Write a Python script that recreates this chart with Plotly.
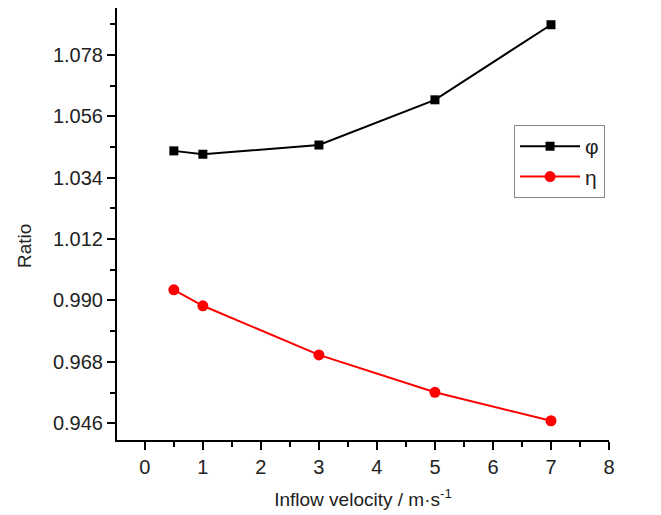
import plotly.graph_objects as go

# Inflow velocity (m/s) and the two ratios
velocity = [0.5, 1, 3, 5, 7]
phi = [1.0436, 1.0424, 1.0457, 1.0619, 1.0888]
eta = [0.9938, 0.9881, 0.9705, 0.9571, 0.9469]

x_ticks = [0, 1, 2, 3, 4, 5, 6, 7, 8]
y_ticks = [0.946, 0.968, 0.990, 1.012, 1.034, 1.056, 1.078]

font_family = "Liberation Sans, Arial, sans-serif"
text_color = "#222"

fig = go.Figure()
fig.add_trace(go.Scatter(
    x=velocity, y=phi, name="φ", mode="lines+markers",
    line=dict(color="black", width=2),
    marker=dict(symbol="square", size=9, color="black"),
))
fig.add_trace(go.Scatter(
    x=velocity, y=eta, name="η", mode="lines+markers",
    line=dict(color="#ff0000", width=2),
    marker=dict(symbol="circle", size=11, color="#ff0000"),
))

axis_common = dict(
    showgrid=False, zeroline=False, showline=True, linecolor="black",
    linewidth=2, ticks="outside", tickwidth=2, ticklen=8, tickcolor="black",
    tickfont=dict(size=20, color=text_color),
)

fig.update_xaxes(
    range=[-0.48, 8], tickvals=x_ticks,
    minor=dict(dtick=0.5, tick0=0, ticks="outside", ticklen=5, tickwidth=2,
               tickcolor="black"),
    title=dict(text="Inflow velocity / m·s<sup>-1</sup>",
               font=dict(size=19, color=text_color), standoff=16),
    **axis_common,
)
fig.update_yaxes(
    range=[0.940, 1.0948], tickvals=y_ticks, ticktext=[f"{v:.3f}" for v in y_ticks],
    minor=dict(dtick=0.011, tick0=0.946, ticks="outside", ticklen=5, tickwidth=2,
               tickcolor="black"),
    **axis_common,
)

# y-axis title, placed a little below the centre of the axis
fig.add_annotation(
    text="Ratio", xref="paper", yref="paper", x=-0.188, y=0.448,
    xanchor="center", yanchor="middle", textangle=-90, showarrow=False,
    font=dict(size=19, color=text_color),
)

fig.update_layout(
    width=661, height=515,
    margin=dict(l=117, r=52, t=8, b=75),
    plot_bgcolor="white", paper_bgcolor="white",
    font=dict(family=font_family),
    legend=dict(
        x=0.807, y=0.729, xanchor="left", yanchor="top",
        bordercolor="#888", borderwidth=1, bgcolor="white",
        font=dict(size=21, color=text_color),
        itemwidth=60, tracegroupgap=2,
    ),
)

fig.write_html("out.html")
